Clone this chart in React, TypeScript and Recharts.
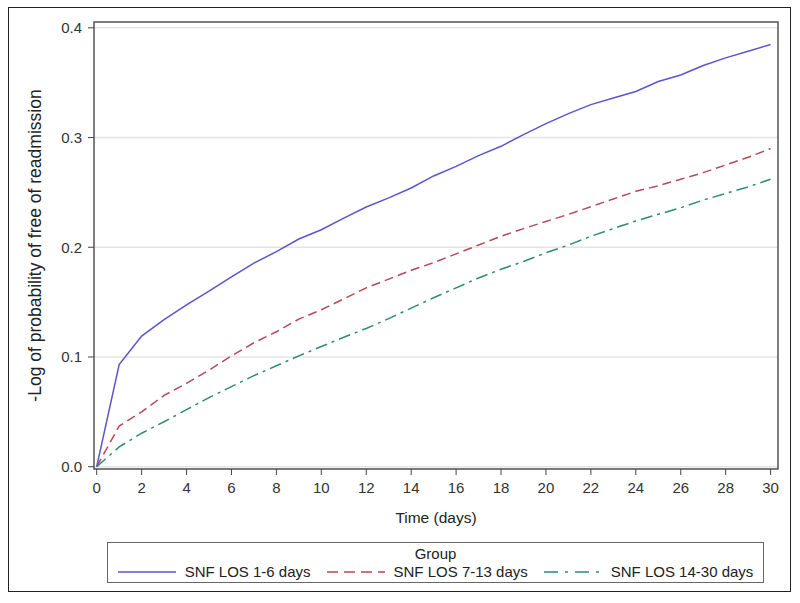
import React from 'react';
import {
  LineChart,
  Line,
  XAxis,
  YAxis,
  CartesianGrid,
  ReferenceArea,
} from 'recharts';

const days = [0, 1, 2, 3, 4, 5, 6, 7, 8, 9, 10, 11, 12, 13, 14, 15, 16, 17, 18, 19, 20, 21, 22, 23, 24, 25, 26, 27, 28, 29, 30];

const los1to6 = [0, 0.093, 0.119, 0.134, 0.1475, 0.16, 0.173, 0.1855, 0.196, 0.2075, 0.216, 0.2266, 0.2367, 0.245, 0.254, 0.265, 0.2737, 0.2835, 0.292, 0.3027, 0.3127, 0.3218, 0.33, 0.336, 0.342, 0.351, 0.357, 0.3656, 0.3726, 0.3787, 0.3848];

const los7to13 = [0, 0.037, 0.05, 0.065, 0.076, 0.088, 0.101, 0.113, 0.123, 0.1345, 0.143, 0.153, 0.163, 0.171, 0.179, 0.186, 0.194, 0.202, 0.21, 0.217, 0.2235, 0.23, 0.237, 0.244, 0.251, 0.256, 0.262, 0.268, 0.275, 0.282, 0.29];

const los14to30 = [0, 0.018, 0.0305, 0.041, 0.052, 0.063, 0.073, 0.083, 0.092, 0.101, 0.1095, 0.118, 0.126, 0.135, 0.1445, 0.154, 0.163, 0.172, 0.18, 0.187, 0.195, 0.202, 0.21, 0.217, 0.224, 0.23, 0.236, 0.243, 0.249, 0.255, 0.262];

const xTicks = [0, 2, 4, 6, 8, 10, 12, 14, 16, 18, 20, 22, 24, 26, 28, 30];
const yTicks = [0, 0.1, 0.2, 0.3, 0.4];

const seriesNames = ['SNF LOS 1-6 days', 'SNF LOS 7-13 days', 'SNF LOS 14-30 days'];
const seriesKeys = ['los1to6', 'los7to13', 'los14to30'];
const seriesColors = ['#5b55cc', '#b5485a', '#2e8b77'];
const seriesDash = [undefined, '9 5', '12 5 3 5'];
const legendDash = [undefined, '11 6', '14 7 3 7'];

const X_DOMAIN: [number, number] = [-0.12, 30.33];
const Y_DOMAIN: [number, number] = [-0.0021, 0.4053];

const FONT = '"Liberation Sans", Arial, sans-serif';

const data = days.map((d, i) => ({
  day: d,
  los1to6: los1to6[i],
  los7to13: los7to13[i],
  los14to30: los14to30[i],
}));

const LegendBox = () => (
  <div
    style={{
      position: 'absolute',
      left: 107,
      top: 542,
      width: 655,
      height: 39,
      border: '1px solid #666',
      fontFamily: FONT,
      color: '#222',
      fontSize: 15,
    }}
  >
    <div style={{ textAlign: 'center', lineHeight: '17px', marginTop: 2 }}>Group</div>
    <div
      style={{
        display: 'flex',
        justifyContent: 'center',
        alignItems: 'center',
        lineHeight: '17px',
        marginTop: 1,
      }}
    >
      {seriesNames.map((name, i) => (
        <div key={name} style={{ display: 'flex', alignItems: 'center', marginRight: i < 2 ? 16 : 0 }}>
          <svg width={58} height={10} style={{ marginRight: 9 }}>
            <line
              x1={0}
              y1={5}
              x2={58}
              y2={5}
              stroke={seriesColors[i]}
              strokeWidth={1.5}
              strokeDasharray={legendDash[i]}
            />
          </svg>
          <span>{name}</span>
        </div>
      ))}
    </div>
  </div>
);

export default function App() {
  return (
    <div style={{ position: 'fixed', left: 0, top: 0, width: 800, height: 603, background: '#fff', overflow: 'hidden' }}>
      <LineChart
        width={800}
        height={603}
        data={data}
        margin={{ top: 22, right: 22, left: 0, bottom: 0 }}
        style={{ position: 'absolute', left: 0, top: 0 }}
      >
        <CartesianGrid vertical={false} stroke="#e4e4e4" strokeWidth={1.5} />
        <XAxis
          dataKey="day"
          type="number"
          domain={X_DOMAIN}
          allowDataOverflow
          ticks={xTicks}
          interval={0}
          height={134}
          axisLine={false}
          tickSize={6}
          tickMargin={7}
          tickLine={{ stroke: '#444' }}
          tick={{ fill: '#333', fontSize: 15, fontFamily: FONT }}
          label={{
            value: 'Time (days)',
            position: 'insideTop',
            offset: 43,
            style: { fill: '#222', fontSize: 15.5, fontFamily: FONT },
          }}
        />
        <YAxis
          type="number"
          domain={Y_DOMAIN}
          allowDataOverflow
          ticks={yTicks}
          interval={0}
          width={94}
          axisLine={false}
          tickSize={6}
          tickMargin={6}
          tickLine={{ stroke: '#444' }}
          tickFormatter={(v: number) => v.toFixed(1)}
          tick={{ fill: '#333', fontSize: 15, fontFamily: FONT }}
          label={{
            value: '-Log of probability of free of readmission',
            angle: -90,
            position: 'insideLeft',
            offset: 35,
            style: { textAnchor: 'middle', fill: '#222', fontSize: 17.5, fontFamily: FONT },
          }}
        />
        <ReferenceArea
          x1={X_DOMAIN[0]}
          x2={X_DOMAIN[1]}
          y1={Y_DOMAIN[0]}
          y2={Y_DOMAIN[1]}
          fill="none"
          stroke="#555"
          strokeWidth={1.5}
          ifOverflow="visible"
        />
        {seriesKeys.map((key, i) => (
          <Line
            key={key}
            type="linear"
            dataKey={key}
            name={seriesNames[i]}
            stroke={seriesColors[i]}
            strokeWidth={1.5}
            strokeDasharray={seriesDash[i]}
            dot={false}
            activeDot={false}
            isAnimationActive={false}
          />
        ))}
      </LineChart>
      <LegendBox />
      <div
        style={{
          position: 'absolute',
          left: 8,
          top: 7,
          width: 781,
          height: 583,
          border: '1.5px solid #222',
          pointerEvents: 'none',
        }}
      />
    </div>
  );
}
